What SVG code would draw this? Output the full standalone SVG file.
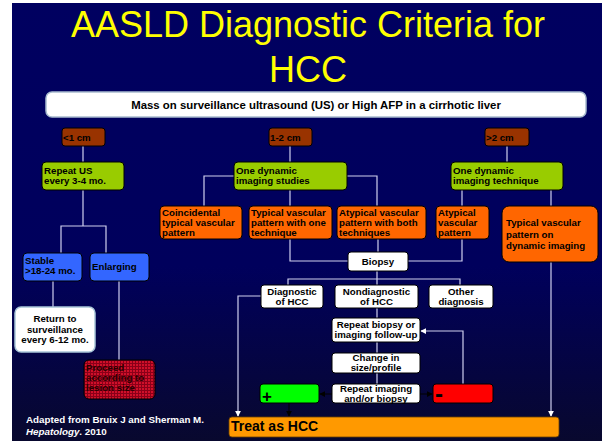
<svg xmlns="http://www.w3.org/2000/svg" width="602" height="444" viewBox="0 0 602 444">
  <defs>
    <linearGradient id="bg" x1="0" y1="0" x2="0" y2="1">
      <stop offset="0" stop-color="#000060"/>
      <stop offset="0.6" stop-color="#00005c"/>
      <stop offset="1" stop-color="#08082e"/>
    </linearGradient>
    <pattern id="grid" width="3" height="3" patternUnits="userSpaceOnUse">
      <rect width="3" height="3" fill="#d0102a"/>
      <path d="M0 0.5H3M0.5 0V3" stroke="#8a0018" stroke-width="1"/>
    </pattern>
    <marker id="arrW" viewBox="0 0 8 8" refX="7" refY="4" markerWidth="6" markerHeight="6" orient="auto" markerUnits="userSpaceOnUse">
      <path d="M0 0L8 4L0 8Z" fill="#ffffff"/>
    </marker>
    <marker id="arrB" viewBox="0 0 8 8" refX="7" refY="4" markerWidth="6" markerHeight="6" orient="auto" markerUnits="userSpaceOnUse">
      <path d="M0 0L8 4L0 8Z" fill="#000000"/>
    </marker>
  </defs>
  <style>
    text { font-family: "Liberation Sans", Arial, sans-serif; font-weight: bold; font-size: 9.7px; fill: #000; }
    .title { font-weight: normal; font-size: 36px; fill: #ffff00; text-anchor: middle; }
    .c { text-anchor: middle; }
    .box { stroke: #000; stroke-width: 1; }
    .size { fill: #993300; }
    .green { fill: #99cc00; }
    .orange { fill: #ff6600; }
    .blue { fill: #3366ff; }
    .white { fill: #ffffff; }
    .wire { fill: none; stroke: #cfcfee; stroke-width: 1.2; }
    .dark { fill: none; stroke: #000; stroke-width: 1; }
    .note { fill: #ffffff; font-size: 9.8px; }
  </style>

  <!-- slide background -->
  <rect width="602" height="444" fill="#ffffff"/>
  <rect x="12" y="3" width="590" height="438" fill="url(#bg)"/>

  <!-- title -->
  <text class="title" x="308" y="37">AASLD Diagnostic Criteria for</text>
  <text class="title" x="308" y="82">HCC</text>

  <!-- connectors -->
  <g id="connectors">
    <path class="wire" d="M83 146V162"/>
    <path class="wire" d="M83 190V226M61 253V226H106V253"/>
    <path class="wire" d="M53 281V307"/>
    <path class="wire" d="M119 281V360"/>
    <path class="wire" d="M290 146V162"/>
    <path class="wire" d="M234 176H204V206"/>
    <path class="wire" d="M347 176H377V206"/>
    <path class="wire" d="M290 190V206"/>
    <path class="wire" d="M507 146V162"/>
    <path class="wire" d="M462 190V206"/>
    <path class="wire" d="M551 190V206"/>
    <path class="wire" d="M290 239V261H348"/>
    <path class="wire" d="M462 239V261H408"/>
    <path class="wire" d="M378 239V252"/>
    <path class="wire" d="M377 271V279M288 285V279H460V285M377 279V285"/>
    <path class="wire" d="M261 296H238V416" marker-end="url(#arrW)"/>
    <path class="wire" d="M377 308V318M377 342V353M377 373V384"/>
    <path class="wire" d="M551 262V416" marker-end="url(#arrW)"/>
    <path class="wire" d="M463 384V331H421" marker-end="url(#arrW)"/>
    <path class="dark" d="M332 394H320" marker-end="url(#arrB)"/>
    <path class="dark" d="M420 394H432" marker-end="url(#arrB)"/>
    <path class="dark" d="M289 403V416" marker-end="url(#arrB)"/>
  </g>

  <!-- entry box -->
  <g id="mass">
    <rect x="46" y="92" width="540" height="25" rx="6" fill="#ffffff" stroke="#a9bccf" stroke-width="1.5"/>
    <text class="c" x="316" y="109" style="font-size:11.4px">Mass on surveillance ultrasound (US) or High AFP in a cirrhotic liver</text>
  </g>

  <!-- size categories -->
  <g id="lt1">
    <rect class="box size" x="62" y="128" width="43" height="18" rx="3"/>
    <text x="63" y="140.5">&lt;1 cm</text>
  </g>
  <g id="s12">
    <rect class="box size" x="269" y="128" width="43" height="18" rx="3"/>
    <text x="270" y="140.5">1-2 cm</text>
  </g>
  <g id="gt2">
    <rect class="box size" x="485" y="128" width="44" height="18" rx="3"/>
    <text x="486" y="140.5">&gt;2 cm</text>
  </g>

  <!-- first actions -->
  <g id="repeatUS">
    <rect class="box green" x="42" y="162" width="82" height="28" rx="4"/>
    <text x="44" y="174">Repeat US</text>
    <text x="44" y="184">every 3-4 mo.</text>
  </g>
  <g id="dynStudies">
    <rect class="box green" x="234" y="162" width="113" height="28" rx="4"/>
    <text x="236" y="174">One dynamic</text>
    <text x="236" y="184">imaging studies</text>
  </g>
  <g id="dynTechnique">
    <rect class="box green" x="451" y="162" width="112" height="28" rx="4"/>
    <text x="453" y="174">One dynamic</text>
    <text x="453" y="184">imaging technique</text>
  </g>

  <!-- imaging results -->
  <g id="coincidental">
    <rect class="box orange" x="160" y="206" width="82" height="33" rx="4"/>
    <text x="162" y="216">Coincidental</text>
    <text x="162" y="226">typical vascular</text>
    <text x="162" y="236">pattern</text>
  </g>
  <g id="typicalOne">
    <rect class="box orange" x="249" y="206" width="83" height="33" rx="4"/>
    <text x="251" y="216">Typical vascular</text>
    <text x="251" y="226">pattern with one</text>
    <text x="251" y="236">technique</text>
  </g>
  <g id="atypicalBoth">
    <rect class="box orange" x="337" y="206" width="89" height="33" rx="4"/>
    <text x="339" y="216">Atypical vascular</text>
    <text x="339" y="226">pattern with both</text>
    <text x="339" y="236">techniques</text>
  </g>
  <g id="atypical">
    <rect class="box orange" x="436" y="206" width="53" height="33" rx="4"/>
    <text x="438" y="216">Atypical</text>
    <text x="438" y="226">vascular</text>
    <text x="438" y="236">pattern</text>
  </g>
  <g id="typicalDyn">
    <rect class="box orange" x="502" y="206" width="96" height="56" rx="7"/>
    <text x="506" y="226">Typical vascular</text>
    <text x="506" y="237.5">pattern on</text>
    <text x="506" y="248.5">dynamic imaging</text>
  </g>

  <!-- surveillance branch -->
  <g id="stable">
    <rect class="box blue" x="23" y="253" width="59" height="28" rx="4"/>
    <text x="25" y="264">Stable</text>
    <text x="25" y="274">&gt;18-24 mo.</text>
  </g>
  <g id="enlarging">
    <rect class="box blue" x="90" y="253" width="59" height="28" rx="4"/>
    <text x="92" y="270">Enlarging</text>
  </g>
  <g id="returnSurv">
    <rect x="15" y="307" width="80" height="45" rx="6" fill="#ffffff" stroke="#a9c6d8" stroke-width="1.5"/>
    <text class="c" x="55" y="322">Return to</text>
    <text class="c" x="55" y="332.5">surveillance</text>
    <text class="c" x="55" y="343">every 6-12 mo.</text>
  </g>
  <g id="proceed">
    <rect class="box" x="84" y="360" width="71" height="39" rx="5" fill="url(#grid)"/>
    <text x="86" y="371" style="fill:#2a0000">Proceed</text>
    <text x="86" y="381" style="fill:#2a0000">according to</text>
    <text x="86" y="391" style="fill:#2a0000">lesion size</text>
  </g>

  <!-- biopsy branch -->
  <g id="biopsy">
    <rect class="box white" x="348" y="252" width="60" height="19" rx="3"/>
    <text class="c" x="378" y="264.5">Biopsy</text>
  </g>
  <g id="diagnostic">
    <rect class="box white" x="261" y="285" width="62" height="23" rx="3"/>
    <text class="c" x="292" y="294.5">Diagnostic</text>
    <text class="c" x="292" y="304.5">of HCC</text>
  </g>
  <g id="nondiagnostic">
    <rect class="box white" x="335" y="285" width="83" height="23" rx="3"/>
    <text class="c" x="376.5" y="294.5">Nondiagnostic</text>
    <text class="c" x="376.5" y="304.5">of HCC</text>
  </g>
  <g id="other">
    <rect class="box white" x="429" y="285" width="64" height="23" rx="3"/>
    <text class="c" x="461" y="294.5">Other</text>
    <text class="c" x="461" y="304.5">diagnosis</text>
  </g>
  <g id="repeatBiopsy">
    <rect class="box white" x="332" y="318" width="88" height="24" rx="3"/>
    <text class="c" x="376" y="327.5">Repeat biopsy or</text>
    <text class="c" x="376" y="337.5">imaging follow-up</text>
  </g>
  <g id="change">
    <rect class="box white" x="332" y="353" width="88" height="20" rx="3"/>
    <text class="c" x="376" y="361">Change in</text>
    <text class="c" x="376" y="371">size/profile</text>
  </g>
  <g id="repeatImaging">
    <rect class="box white" x="332" y="384" width="88" height="19" rx="3"/>
    <text class="c" x="376" y="391.8">Repeat imaging</text>
    <text class="c" x="376" y="401.8">and/or biopsy</text>
  </g>
  <g id="plus">
    <rect class="box" x="260" y="384" width="59" height="19" rx="3" fill="#00ff00"/>
    <text x="262" y="401.5" style="font-size:17px">+</text>
  </g>
  <g id="minus">
    <rect class="box" x="433" y="384" width="60" height="19" rx="3" fill="#ff0000"/>
    <text x="435" y="402" style="font-size:24px">-</text>
  </g>
  <g id="treat">
    <rect x="229" y="417" width="330" height="20" rx="3" fill="#ff9900" stroke="#6a4000" stroke-width="0.8"/>
    <text x="231" y="431" style="font-size:14px">Treat as HCC</text>
  </g>

  <!-- source -->
  <text class="note" x="26" y="423">Adapted from Bruix J and Sherman M.</text>
  <text class="note" x="26" y="435"><tspan font-style="italic">Hepatology</tspan>. 2010</text>
</svg>
